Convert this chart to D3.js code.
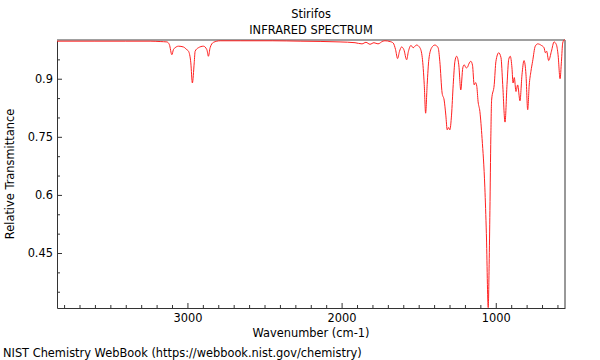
<!DOCTYPE html>
<html>
<head>
<meta charset="utf-8">
<script src="https://cdn.jsdelivr.net/npm/d3@7"></script>
<style>
  html, body { margin: 0; padding: 0; background: #fff; }
  text { font-family: "DejaVu Sans", sans-serif; }
</style>
</head>
<body>
<svg id="chart" width="600" height="360"></svg>
<script>
// ---- data ----
const title = "Stirifos";
const subtitle = "INFRARED SPECTRUM";
const xLabel = "Wavenumber (cm-1)";
const yLabel = "Relative Transmittance";
const footer = "NIST Chemistry WebBook (https://webbook.nist.gov/chemistry)";

const wavenumber = [3846, 3600, 3400, 3242, 3177, 3133, 3117, 3101, 3091, 3080, 3058, 3026, 3004, 2993, 2978, 2968, 2956, 2950, 2929, 2896, 2874, 2864, 2853, 2831, 2788, 2658, 2450, 2269, 2010, 1913, 1868, 1842, 1816, 1790, 1764, 1732, 1719, 1686, 1665, 1650, 1637, 1625, 1611, 1596, 1578, 1567, 1550, 1536, 1514, 1492, 1477, 1464, 1455, 1445, 1434, 1416, 1395, 1374, 1363, 1348, 1335, 1324, 1315, 1306, 1298, 1287, 1276, 1265, 1254, 1240, 1227, 1214, 1205, 1192, 1183, 1175, 1162, 1151, 1140, 1131, 1123, 1115, 1103, 1089, 1071, 1061, 1049, 1043, 1038, 1032, 1027, 1010, 999, 981, 966, 955, 940, 927, 916, 906, 895, 888, 880, 869, 858, 843, 830, 817, 804, 793, 783, 772, 761, 744, 728, 704, 687, 678, 670, 657, 639, 622, 607, 596, 583, 574, 566, 557, 551];
const transmittance = [0.997, 0.997, 0.997, 0.997, 0.996, 0.995, 0.988, 0.962, 0.975, 0.980, 0.984, 0.982, 0.975, 0.971, 0.941, 0.889, 0.941, 0.971, 0.980, 0.984, 0.975, 0.958, 0.980, 0.994, 0.998, 0.998, 0.998, 0.997, 0.995, 0.993, 0.990, 0.994, 0.989, 0.993, 0.990, 0.997, 0.998, 0.996, 0.992, 0.975, 0.952, 0.970, 0.982, 0.975, 0.949, 0.970, 0.986, 0.980, 0.987, 0.980, 0.955, 0.885, 0.811, 0.885, 0.950, 0.980, 0.987, 0.980, 0.945, 0.863, 0.845, 0.806, 0.768, 0.774, 0.768, 0.806, 0.885, 0.945, 0.958, 0.936, 0.871, 0.928, 0.936, 0.928, 0.930, 0.938, 0.945, 0.935, 0.884, 0.890, 0.880, 0.842, 0.815, 0.746, 0.620, 0.500, 0.309, 0.420, 0.560, 0.750, 0.845, 0.885, 0.945, 0.967, 0.954, 0.885, 0.788, 0.885, 0.950, 0.958, 0.928, 0.889, 0.903, 0.867, 0.884, 0.843, 0.910, 0.947, 0.910, 0.820, 0.884, 0.919, 0.945, 0.984, 0.990, 0.986, 0.980, 0.967, 0.971, 0.947, 0.971, 0.995, 0.988, 0.962, 0.900, 0.945, 0.992, 1.000, 1.000];

const xMajorTicks = [3000, 2000, 1000];
const xMinorTicks = [3800, 3700, 3600, 3500, 3400, 3300, 3200, 3100, 2900, 2800, 2700, 2600, 2500, 2400, 2300, 2200, 2100, 1900, 1800, 1700, 1600, 1500, 1400, 1300, 1200, 1100, 900, 800, 700, 600];
const yMajorTicks = [0.45, 0.6, 0.75, 0.9];
const yMajorLabels = ["0.45", "0.6", "0.75", "0.9"];
const yMinorTicks = [0.35, 0.4, 0.5, 0.55, 0.65, 0.7, 0.8, 0.85, 0.95];

const xDomain = [3846, 551];
const yDomain = [0.308, 1.0];

// ---- layout ----
const svg = d3.select("#chart");
const mLeft = 57, mRight = 565, mTop = 40, mBottom = 308;
const fs = 11.4;

const x = d3.scaleLinear().domain(xDomain).range([mLeft, mRight]);
const y = d3.scaleLinear().domain(yDomain).range([mBottom, mTop]);

const axisColor = "#333";

// minor ticks
svg.append("g")
  .attr("transform", `translate(0,${mBottom})`)
  .call(d3.axisBottom(x).tickValues(xMinorTicks).tickSize(-3).tickFormat(""))
  .call(g => g.select(".domain").remove())
  .call(g => g.selectAll("line").attr("stroke", axisColor));
svg.append("g")
  .attr("transform", `translate(${mLeft},0)`)
  .call(d3.axisLeft(y).tickValues(yMinorTicks).tickSize(-3).tickFormat(""))
  .call(g => g.select(".domain").remove())
  .call(g => g.selectAll("line").attr("stroke", axisColor));

// major axes
const xAxis = svg.append("g")
  .attr("transform", `translate(0,${mBottom})`)
  .call(d3.axisBottom(x).tickValues(xMajorTicks).tickSize(-5).tickSizeOuter(0).tickPadding(6).tickFormat(d3.format("d")));
xAxis.select(".domain").attr("stroke", axisColor);
xAxis.selectAll("line").attr("stroke", axisColor);
xAxis.selectAll("text").attr("font-size", fs).attr("fill", "#000").attr("font-family", "DejaVu Sans");

const yAxis = svg.append("g")
  .attr("transform", `translate(${mLeft},0)`)
  .call(d3.axisLeft(y).tickValues(yMajorTicks).tickSize(-5).tickSizeOuter(0).tickPadding(4)
    .tickFormat((d, i) => yMajorLabels[i]));
yAxis.select(".domain").attr("stroke", axisColor);
yAxis.selectAll("line").attr("stroke", axisColor);
yAxis.selectAll("text").attr("font-size", fs).attr("fill", "#000").attr("font-family", "DejaVu Sans");

// right border and top border
svg.append("line").attr("x1", mRight).attr("x2", mRight).attr("y1", mTop).attr("y2", mBottom)
  .attr("stroke", axisColor).attr("stroke-width", 1);
svg.append("line").attr("x1", mLeft).attr("x2", mRight).attr("y1", mTop).attr("y2", mTop)
  .attr("stroke", "#a0a0a0").attr("stroke-width", 2);

// spectrum
const data = wavenumber.map((w, i) => ({ w, t: transmittance[i] }));
svg.append("defs").append("clipPath").attr("id", "clip")
  .append("rect").attr("x", mLeft).attr("y", mTop - 1).attr("width", mRight - mLeft).attr("height", mBottom - mTop + 1);
svg.append("path")
  .datum(data)
  .attr("clip-path", "url(#clip)")
  .attr("fill", "none")
  .attr("stroke", "#ff2020")
  .attr("stroke-width", 1)
  .attr("d", d3.line().x(d => x(d.w)).y(d => y(d.t)).curve(d3.curveMonotoneX));

// texts
const cx = (mLeft + mRight) / 2;
svg.append("text").attr("x", cx).attr("y", 17.5).attr("text-anchor", "middle").attr("font-size", fs).text(title);
svg.append("text").attr("x", cx).attr("y", 34).attr("text-anchor", "middle").attr("font-size", fs).text(subtitle);
svg.append("text").attr("x", cx).attr("y", 337).attr("text-anchor", "middle").attr("font-size", fs).text(xLabel);
svg.append("text").attr("transform", `translate(14,174) rotate(-90)`).attr("text-anchor", "middle").attr("font-size", fs).text(yLabel);
svg.append("text").attr("x", 3).attr("y", 357).attr("font-size", fs).text(footer);
</script>
</body>
</html>
